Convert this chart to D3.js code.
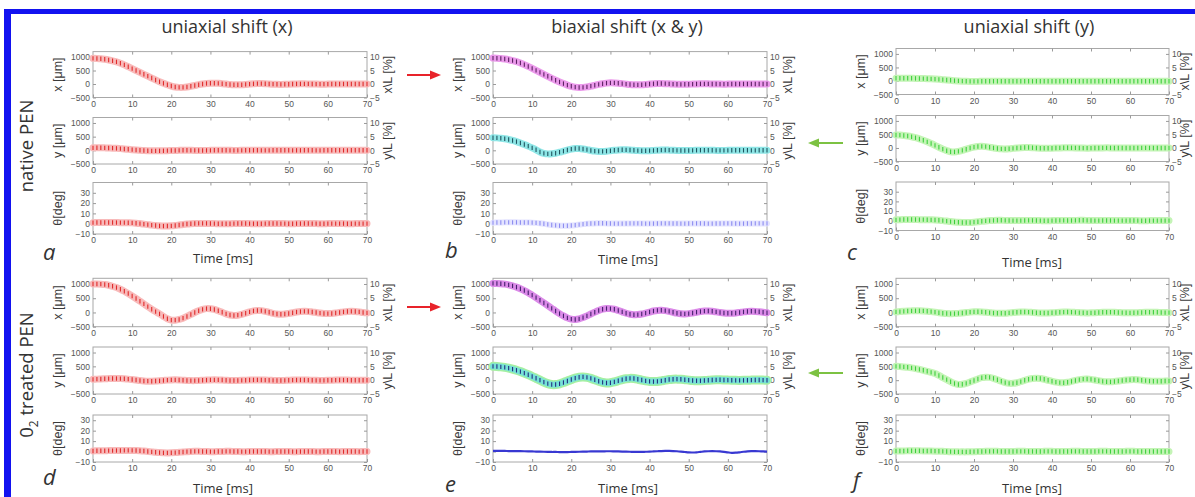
<!DOCTYPE html>
<html><head><meta charset="utf-8">
<script src="https://cdn.jsdelivr.net/npm/d3@7"></script>
<style>
html,body{margin:0;padding:0;background:#fff;overflow:hidden}
svg{display:block}
.ax .tick text{font-family:"Liberation Sans",Arial,sans-serif;font-size:8.5px;fill:#555}
.ax .tick line{stroke:#9a9a9a}
.ax .domain{display:none}
</style></head><body>
<svg id="fig" width="1195" height="497"></svg>
<script>
// time base (ms) and tick values
const time = [0,1,2,3,4,5,6,7,8,9,10,11,12,13,14,15,16,17,18,19,20,21,22,23,24,25,26,27,28,29,30,31,32,33,34,35,36,37,38,39,40,41,42,43,44,45,46,47,48,49,50,51,52,53,54,55,56,57,58,59,60,61,62,63,64,65,66,67,68,69,70];
const timeTicks = [0,10,20,30,40,50,60,70];
const posTicks = [-500,0,500,1000];
const pctTicks = [-5,0,5,10];
const angTicks = [-10,0,10,20,30];

// native PEN, uniaxial shift (x)
const aX = [950,945,935,915,890,860,820,770,710,640,570,500,430,360,290,220,150,85,25,-30,-75,-110,-125,-125,-110,-85,-55,-25,0,20,30,30,25,12,-3,-18,-28,-30,-25,-15,-3,8,14,14,10,2,-6,-12,-14,-12,-7,-2,3,5,5,3,0,-3,-5,-5,-4,-2,0,1,2,1,0,-1,-2,-2,-1];
const aY = [90,92,92,90,86,80,72,62,50,37,24,11,0,-9,-15,-19,-20,-19,-16,-12,-8,-4,-1,0,0,-1,-3,-4,-4,-3,-1,0,1,1,0,-1,-2,-2,-1,0,1,1,0,-1,-1,-1,0,0,1,0,0,-1,-1,0,0,0,0,-1,-1,0,0,0,0,0,-1,-1,0,0,0,0,0];
const aTheta = [1.0,1.1,1.2,1.2,1.2,1.2,1.1,1.0,1.0,0.9,0.8,0.5,0.1,-0.4,-0.9,-1.4,-1.8,-2.1,-2.3,-2.3,-2.1,-1.7,-1.2,-0.7,-0.3,0.0,0.2,0.3,0.3,0.3,0.2,0.1,0.0,-0.1,-0.1,0.0,0.1,0.2,0.2,0.2,0.1,0.0,0.0,0.0,0.1,0.2,0.2,0.2,0.1,0.1,0.0,0.0,0.1,0.1,0.2,0.2,0.1,0.1,0.0,0.0,0.1,0.1,0.1,0.1,0.1,0.0,0.0,0.1,0.1,0.1,0.1];

// native PEN, biaxial shift (x & y)
const bX = [960,955,945,925,900,868,828,778,718,650,578,505,432,358,285,212,140,75,15,-40,-85,-115,-128,-125,-108,-80,-48,-15,12,32,42,40,30,14,-4,-20,-30,-32,-26,-15,-2,10,17,18,13,5,-4,-10,-13,-12,-8,-3,2,5,6,5,2,-1,-4,-5,-4,-2,0,2,3,2,1,0,-1,-1,-1];
const bY = [460,455,442,422,395,360,318,270,215,155,90,20,-60,-110,-130,-125,-105,-70,-30,10,45,65,65,50,25,-5,-28,-40,-40,-30,-14,2,14,20,18,10,0,-10,-16,-17,-12,-5,2,8,10,7,2,-3,-7,-8,-6,-2,2,4,4,2,0,-2,-3,-3,-1,0,1,2,1,0,-1,-1,0,0,0];
const bTheta = [1.0,1.1,1.2,1.3,1.3,1.3,1.3,1.2,1.2,1.1,1.0,0.8,0.4,-0.1,-0.7,-1.2,-1.6,-1.9,-2.0,-2.0,-1.8,-1.4,-0.9,-0.4,0.0,0.2,0.3,0.4,0.4,0.3,0.2,0.1,0.1,0.1,0.2,0.3,0.3,0.3,0.2,0.1,0.1,0.1,0.2,0.3,0.3,0.3,0.2,0.2,0.1,0.1,0.2,0.3,0.3,0.3,0.2,0.1,0.1,0.2,0.2,0.3,0.3,0.2,0.2,0.1,0.1,0.2,0.2,0.3,0.3,0.3,0.3];

// native PEN, uniaxial shift (y)
const cX = [100,102,102,100,98,95,92,88,84,78,70,60,48,36,24,12,2,-6,-12,-15,-16,-15,-13,-11,-10,-10,-11,-12,-12,-12,-11,-10,-10,-10,-11,-12,-12,-11,-10,-10,-10,-11,-11,-11,-10,-10,-10,-10,-11,-11,-10,-10,-10,-10,-10,-11,-11,-10,-10,-10,-10,-10,-10,-11,-10,-10,-10,-10,-10,-10,-10];
const cY = [480,475,462,442,414,378,334,283,226,163,96,26,-42,-100,-138,-145,-125,-88,-45,-3,33,55,60,50,28,2,-20,-33,-35,-28,-15,-2,10,16,15,9,0,-8,-12,-12,-8,-3,2,6,7,5,2,-2,-5,-6,-5,-2,1,3,4,3,1,-1,-3,-3,-2,0,1,2,2,1,0,-1,-1,-1,0];
const cTheta = [1.0,1.2,1.3,1.3,1.3,1.3,1.2,1.2,1.1,1.0,0.9,0.6,0.2,-0.3,-0.8,-1.2,-1.5,-1.7,-1.8,-1.7,-1.4,-1.0,-0.5,-0.1,0.2,0.4,0.5,0.5,0.4,0.3,0.2,0.2,0.2,0.3,0.4,0.4,0.3,0.2,0.1,0.1,0.2,0.3,0.4,0.4,0.3,0.3,0.4,0.5,0.5,0.4,0.3,0.2,0.2,0.3,0.3,0.3,0.2,0.2,0.2,0.2,0.3,0.3,0.2,0.1,0.1,0.2,0.2,0.2,0.2,0.2,0.2];

// O2 treated PEN, uniaxial shift (x)
const dX = [1000,1000,995,980,955,920,875,815,745,665,580,490,395,300,205,115,30,-50,-140,-220,-270,-270,-245,-200,-140,-70,0,60,110,135,130,105,60,5,-50,-90,-105,-95,-65,-25,20,55,70,65,40,5,-30,-55,-62,-55,-35,-10,15,32,40,35,18,-2,-22,-35,-40,-35,-20,0,20,35,40,35,20,0,-15];
const dY = [30,38,45,52,57,60,60,57,50,38,22,4,-14,-28,-36,-37,-32,-22,-10,2,10,12,8,0,-9,-15,-16,-12,-5,3,10,12,10,4,-3,-9,-12,-11,-7,-1,5,9,10,8,3,-3,-8,-11,-11,-8,-3,2,6,8,7,3,-2,-6,-8,-8,-5,-1,3,5,5,3,0,-3,-5,-5,-3];
const dTheta = [0.6,0.7,0.8,0.8,0.9,0.9,1.0,1.0,1.1,1.1,1.1,1.0,0.8,0.5,0.1,-0.3,-0.7,-1.0,-1.2,-1.3,-1.2,-1.0,-0.7,-0.4,-0.1,0.1,0.2,0.2,0.1,0.0,-0.1,-0.1,0.0,0.1,0.2,0.2,0.1,0.0,-0.1,-0.1,0.0,0.1,0.1,0.1,0.0,-0.1,-0.1,0.0,0.1,0.1,0.0,-0.1,-0.1,0.0,0.1,0.1,0.0,-0.1,-0.1,0.0,0.1,0.1,0.0,-0.1,0.0,0.1,0.1,0.0,-0.1,0.0,0.0];

// O2 treated PEN, biaxial shift (x & y)
const eX = [1020,1018,1010,995,970,935,890,835,770,695,610,520,428,335,240,145,50,-40,-120,-190,-235,-245,-225,-180,-120,-55,10,70,115,138,135,112,70,20,-28,-62,-78,-75,-55,-22,15,50,72,78,65,38,5,-25,-45,-50,-40,-18,8,32,48,52,42,22,0,-18,-28,-28,-18,0,20,35,42,38,25,8,-8];
const eY = [500,495,482,462,435,400,358,310,256,197,134,68,2,-70,-125,-158,-158,-130,-85,-30,25,75,108,118,102,65,15,-38,-80,-100,-92,-62,-22,20,52,65,58,35,5,-25,-45,-52,-45,-25,0,22,35,38,32,18,2,-12,-20,-20,-14,-4,6,12,13,9,3,-3,-7,-8,-6,-2,2,4,4,2,0];
const eTheta = [0.6,0.6,0.6,0.6,0.5,0.5,0.5,0.4,0.3,0.2,0.1,0.0,-0.1,-0.2,-0.3,-0.4,-0.4,-0.5,-0.5,-0.5,-0.4,-0.3,-0.2,-0.1,0.0,0.1,0.1,0.2,0.2,0.3,0.3,0.2,0.1,0.0,-0.1,-0.2,-0.3,-0.3,-0.3,-0.2,-0.1,0.1,0.3,0.5,0.6,0.6,0.5,0.3,0.0,-0.4,-0.8,-0.9,-0.7,-0.3,0.1,0.3,0.4,0.3,0.1,-0.3,-0.8,-1.2,-1.1,-0.7,-0.2,0.2,0.4,0.4,0.3,0.1,0.0];

// O2 treated PEN, uniaxial shift (y)
const fX = [20,30,40,50,56,60,60,55,45,30,12,-8,-25,-37,-42,-40,-32,-18,-2,12,22,25,20,8,-6,-20,-28,-30,-25,-14,-2,10,17,18,12,2,-8,-16,-20,-18,-12,-3,6,12,14,10,3,-5,-12,-15,-14,-9,-2,5,9,10,7,1,-6,-11,-13,-11,-6,0,5,8,8,5,0,-4,-6];
const fY = [500,492,480,465,445,420,390,358,322,283,240,170,95,20,-55,-120,-155,-150,-115,-65,-10,45,90,110,100,65,15,-40,-88,-115,-115,-92,-52,-5,35,60,68,58,32,-3,-40,-72,-90,-92,-75,-45,-10,20,38,42,30,5,-22,-45,-58,-60,-50,-32,-10,8,18,22,15,0,-18,-32,-40,-42,-38,-32,-28];
const fTheta = [0.5,0.6,0.6,0.7,0.7,0.7,0.7,0.6,0.6,0.5,0.4,0.3,0.2,0.0,-0.1,-0.2,-0.3,-0.3,-0.3,-0.2,-0.1,0.0,0.1,0.2,0.2,0.2,0.2,0.1,0.1,0.1,0.1,0.2,0.2,0.2,0.1,0.1,0.1,0.1,0.2,0.2,0.2,0.1,0.1,0.1,0.1,0.2,0.2,0.2,0.1,0.1,0.1,0.1,0.2,0.2,0.2,0.1,0.1,0.1,0.1,0.2,0.2,0.2,0.1,0.1,0.1,0.1,0.1,0.1,0.1,0.1,0.1];

// text
const columnTitles = ["uniaxial shift (x)", "biaxial shift (x & y)", "uniaxial shift (y)"];
const panelLetters = ["a","b","c","d","e","f"];

// trace styles: pale band underneath, darker error-bar markers on top
const styles = {
  red:      {bands:[["#f8baba",7]], marker:"#e02a2a"},
  magenta:  {bands:[["#eb9aeb",7]], marker:"#5c2062"},
  cyan:     {bands:[["#8ee6e6",7]], marker:"#1f5560"},
  lavender: {bands:[["#e4e4ff",6]], marker:"#8c8cf0"},
  green:    {bands:[["#c4f4b6",7]], marker:"#3dd03d"},
  violet:   {bands:[["#db8ae8",7]], marker:"#45206c"},
  cyanGreen:{bands:[["#a6f0a2",9],["#76e2d8",6]], marker:"#23317e"},
  blueLine: {line:["#3838d2",2.2]}
};

// column x-extents, right-label offsets and sub-axes rows
const cols = [[93,367],[493,767],[896,1169]];
const rightLabelGap = [25,25,20];
const rowsTopAB = [[51.6,97.5],[117.5,164],[182.5,234]];
const rowsTopC  = [[48.5,94.5],[115.5,161.5],[182,230.5]];
const rowsBot   = [[278.3,326.7],[347,394],[415,462]];

const panels = [
  {col:0, rows:rowsTopAB, thetaMax:40, series:[[aX,"red"],[aY,"red"],[aTheta,"red"]]},
  {col:1, rows:rowsTopAB, thetaMax:40, series:[[bX,"magenta"],[bY,"cyan"],[bTheta,"lavender"]]},
  {col:2, rows:rowsTopC,  thetaMax:40, series:[[cX,"green"],[cY,"green"],[cTheta,"green"]]},
  {col:0, rows:rowsBot,   thetaMax:35, series:[[dX,"red"],[dY,"red"],[dTheta,"red"]]},
  {col:1, rows:rowsBot,   thetaMax:35, series:[[eX,"violet"],[eY,"cyanGreen"],[eTheta,"blueLine"]]},
  {col:2, rows:rowsBot,   thetaMax:35, series:[[fX,"green"],[fY,"green"],[fTheta,"green"]]}
];

const svg = d3.select("#fig");
svg.append("rect").attr("width",1195).attr("height",497).attr("fill","#fff");

const sans = "'Open Sans','Noto Sans',sans-serif";
const helv = "'Liberation Sans',Arial,sans-serif";
const intFmt = d3.format("d");

function drawSub(x0, x1, rGap, top, bot, domain, leftTicks, hasRight, values, styleName, leftLabel, rightLabel) {
  const g = svg.append("g");
  const x = d3.scaleLinear().domain([0,70]).range([x0,x1]);
  const y = d3.scaleLinear().domain(domain).range([bot,top]);

  g.append("rect").attr("x",x0).attr("y",top).attr("width",x1-x0).attr("height",bot-top)
    .attr("fill","#fff").attr("stroke","#a8a8a8").attr("stroke-width",1);

  g.append("g").attr("class","ax").attr("transform",`translate(0,${bot})`)
    .call(d3.axisBottom(x).tickValues(timeTicks).tickFormat(intFmt).tickSizeInner(-3).tickSizeOuter(0).tickPadding(3));
  g.append("g").attr("class","ax").attr("transform",`translate(0,${top})`)
    .call(d3.axisTop(x).tickValues(timeTicks.slice(1,-1)).tickSizeInner(-3).tickSizeOuter(0).tickFormat(""));
  g.append("g").attr("class","ax").attr("transform",`translate(${x0},0)`)
    .call(d3.axisLeft(y).tickValues(leftTicks).tickFormat(intFmt).tickSizeInner(-3).tickSizeOuter(0).tickPadding(3));

  if (hasRight) {
    const y2 = d3.scaleLinear().domain([domain[0]/100, domain[1]/100]).range([bot,top]);
    g.append("g").attr("class","ax").attr("transform",`translate(${x1},0)`)
      .call(d3.axisRight(y2).tickValues(pctTicks).tickFormat(intFmt).tickSizeInner(-3).tickSizeOuter(0).tickPadding(3));
  } else {
    g.append("g").attr("class","ax").attr("transform",`translate(${x1},0)`)
      .call(d3.axisRight(y).tickValues(leftTicks).tickSizeInner(-3).tickSizeOuter(0).tickFormat(""));
  }

  const pts = values.map((v,i) => [time[i], v]);
  const line = d3.line().x(d => x(d[0])).y(d => y(d[1])).curve(d3.curveCatmullRom);
  const st = styles[styleName];
  if (st.bands) {
    st.bands.forEach(([c,w]) => {
      g.append("path").datum(pts).attr("d",line).attr("fill","none")
        .attr("stroke",c).attr("stroke-width",w).attr("stroke-linejoin","round").attr("stroke-linecap","round");
    });
    g.append("g").selectAll("line").data(pts).join("line")
      .attr("x1",d => x(d[0])).attr("x2",d => x(d[0]))
      .attr("y1",d => y(d[1]) - 2.2).attr("y2",d => y(d[1]) + 2.2)
      .attr("stroke",st.marker).attr("stroke-width",1.1);
  }
  if (st.line) {
    g.append("path").datum(pts).attr("d",line).attr("fill","none")
      .attr("stroke",st.line[0]).attr("stroke-width",st.line[1]);
  }

  const cy = (top+bot)/2;
  g.append("text").attr("transform",`translate(${x0-31},${cy}) rotate(-90)`)
    .attr("text-anchor","middle").attr("font-family",helv).attr("font-size",12.5).attr("fill","#3a3a3a")
    .text(leftLabel);
  if (rightLabel) {
    g.append("text").attr("transform",`translate(${x1+rGap},${cy}) rotate(-90)`)
      .attr("text-anchor","middle").attr("font-family",helv).attr("font-size",12.5).attr("fill","#3a3a3a")
      .text(rightLabel);
  }
}

panels.forEach(p => {
  const [x0,x1] = cols[p.col];
  const rg = rightLabelGap[p.col];
  drawSub(x0, x1, rg, p.rows[0][0], p.rows[0][1], [-500,1200], posTicks, true, p.series[0][0], p.series[0][1], "x [μm]", "x\\L [%]");
  drawSub(x0, x1, rg, p.rows[1][0], p.rows[1][1], [-500,1200], posTicks, true, p.series[1][0], p.series[1][1], "y [μm]", "y\\L [%]");
  drawSub(x0, x1, rg, p.rows[2][0], p.rows[2][1], [-10,p.thetaMax], angTicks, false, p.series[2][0], p.series[2][1], "θ[deg]", null);
});

// blue frame
svg.append("rect").attr("x",4).attr("y",9).attr("width",1191).attr("height",5).attr("fill","#1212f0");
svg.append("rect").attr("x",4).attr("y",9).attr("width",7).attr("height",488).attr("fill","#1212f0");

// column titles
const titleX = [227, 627, 1029];
columnTitles.forEach((t,i) => {
  svg.append("text").attr("x",titleX[i]).attr("y",33).attr("text-anchor","middle")
    .attr("font-family",sans).attr("font-size",18).attr("fill","#333").text(t);
});

// row labels
svg.append("text").attr("transform","translate(33,146) rotate(-90)").attr("text-anchor","middle")
  .attr("font-family",sans).attr("font-size",18.5).attr("fill","#333").text("native PEN");
const o2 = svg.append("text").attr("transform","translate(33,375) rotate(-90)").attr("text-anchor","middle")
  .attr("font-family",sans).attr("font-size",18.5).attr("fill","#333");
o2.append("tspan").text("0");
o2.append("tspan").attr("dy",5).attr("font-size",12).text("2");
o2.append("tspan").attr("dy",-5).text(" treated PEN");

// panel letters and time axis titles
const letterPos = [[43,260],[445,258],[847,260],[43,485],[445,492],[853,488]];
panelLetters.forEach((l,i) => {
  svg.append("text").attr("x",letterPos[i][0]).attr("y",letterPos[i][1])
    .attr("font-family",sans).attr("font-style","italic").attr("font-size",22).attr("fill","#333").text(l);
});
const timePos = [[223,263],[628,264],[1032,267],[223,493],[628,493],[1032,493]];
timePos.forEach(([tx,ty]) => {
  svg.append("text").attr("x",tx).attr("y",ty).attr("text-anchor","middle")
    .attr("font-family",sans).attr("font-size",13).attr("fill","#333").text("Time [ms]");
});

// arrows linking the single-axis runs to the combined run
function arrow(xTail, xHead, yy, color) {
  const dir = Math.sign(xHead - xTail);
  svg.append("line").attr("x1",xTail).attr("x2",xHead - dir*8).attr("y1",yy).attr("y2",yy)
    .attr("stroke",color).attr("stroke-width",2);
  svg.append("path").attr("d",`M${xHead},${yy} L${xHead-dir*11},${yy-4.5} L${xHead-dir*11},${yy+4.5} Z`).attr("fill",color);
}
arrow(407, 441, 75, "#e8232a");
arrow(407, 441, 307, "#e8232a");
arrow(843, 808, 143, "#7cc242");
arrow(843, 808, 373, "#7cc242");
</script></body></html>
